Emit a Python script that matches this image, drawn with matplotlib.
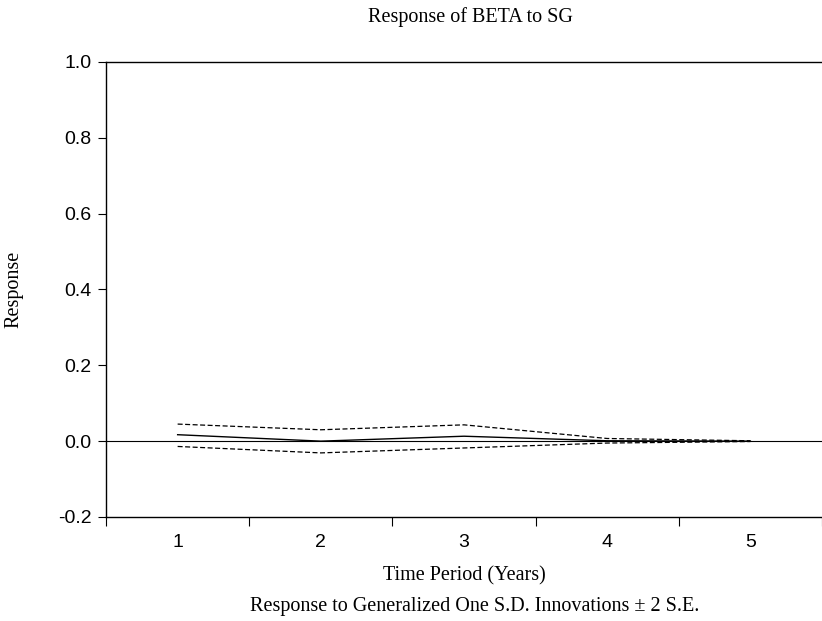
import numpy as np
import matplotlib.pyplot as plt

# impulse response values
periods = [1, 2, 3, 4, 5]
response = [0.017, 0.000, 0.013, 0.001, 0.000]
upper_band = [0.045, 0.030, 0.043, 0.007, 0.001]
lower_band = [-0.014, -0.031, -0.018, -0.005, -0.001]
y_ticks = [-0.2, 0.0, 0.2, 0.4, 0.6, 0.8, 1.0]

serif = 'Liberation Serif'
sans = 'Liberation Sans'

fig = plt.figure(figsize=(8.22, 6.21), dpi=100)
ax = fig.add_axes([0.129, 0.1675, 0.871, 0.7327])

ax.axhline(0, color='black', lw=0.8)
ax.plot(periods, response, color='black', lw=1.0)
ax.plot(periods, upper_band, color='black', lw=0.9, ls=(0, (4, 2)))
ax.plot(periods, lower_band, color='black', lw=0.9, ls=(0, (4, 2)))

ax.set_xlim(0.5, 5.43)
ax.set_ylim(-0.2, 1.0)

# category style x axis: labels centred, tick marks between periods
ax.set_xticks(periods)
ax.set_xticks(np.arange(0.5, 6, 1.0), minor=True)
ax.tick_params(axis='x', which='major', length=0, pad=12)
ax.tick_params(axis='x', which='minor', length=6.5, width=0.8, direction='out')
ax.set_yticks(y_ticks)
ax.set_yticklabels(['%.1f' % v for v in y_ticks])
ax.tick_params(axis='y', length=5.5, width=0.8, direction='out', pad=5)
for lab in ax.get_xticklabels() + ax.get_yticklabels():
    lab.set_family(sans)
    lab.set_fontsize(14)

ax.spines['right'].set_visible(False)
for s in ['left', 'top', 'bottom']:
    ax.spines[s].set_linewidth(1.0)

ax.set_xlabel('Time Period (Years)', family=serif, fontsize=14.5, labelpad=11)
ax.set_ylabel('Response', family=serif, fontsize=14.5)
ax.yaxis.set_label_coords(-0.116, 0.5)
fig.text(470 / 822, 1 - 17 / 621, 'Response of BETA to SG', family=serif,
         fontsize=14.5, ha='center', va='center')
fig.text(475 / 822, 1 - 606 / 621,
         'Response to Generalized One S.D. Innovations \u00b1 2 S.E.',
         family=serif, fontsize=14.5, ha='center', va='center')

fig.savefig('out.png', dpi=100)
